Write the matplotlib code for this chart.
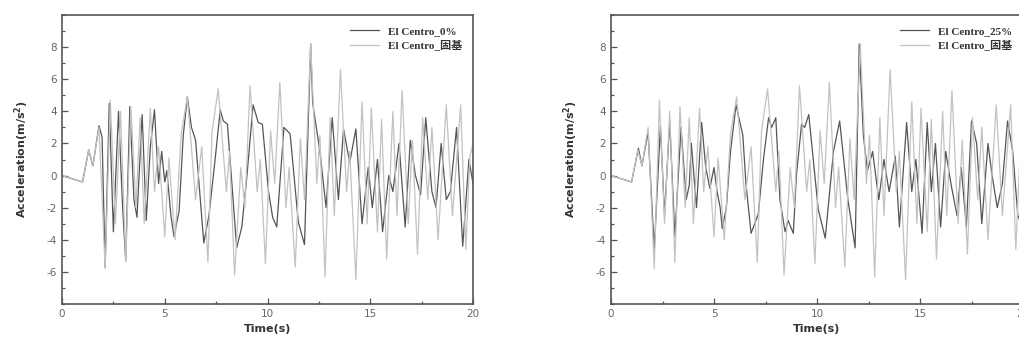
import matplotlib
matplotlib.use("Agg")
import matplotlib.pyplot as plt
from matplotlib.ticker import MultipleLocator

plt.rcParams["axes.unicode_minus"] = False

# fixed-base response (same in both panels), turning points
base_t = [0.0, 0.5, 1.0, 1.3, 1.5, 1.8, 2.1, 2.35, 2.6, 2.85, 3.1, 3.35, 3.6, 3.8,
          4.0, 4.3, 4.5, 4.7, 5.0, 5.2, 5.5, 5.8, 6.1, 6.5, 6.8, 7.1, 7.3, 7.6,
          8.0, 8.15, 8.4, 8.7, 8.9, 9.15, 9.5, 9.65, 9.9, 10.15, 10.35, 10.6,
          10.9, 11.05, 11.35, 11.6, 11.8, 12.1, 12.4, 12.55, 12.8, 13.05, 13.25,
          13.55, 13.85, 14.0, 14.3, 14.6, 14.85, 15.05, 15.35, 15.55, 15.8, 16.1,
          16.3, 16.55, 16.85, 17.05, 17.3, 17.55, 17.8, 18.0, 18.3, 18.7, 19.0,
          19.4, 19.65, 19.85, 20.0]
base_a = [0.0, -0.2, -0.4, 1.6, 0.6, 3.0, -5.8, 4.7, -3.0, 4.0, -5.4, 4.3, -2.0, 3.6,
          -3.0, 4.2, -1.0, 1.8, -3.8, 1.1, -4.0, 2.6, 4.9, -1.5, 1.8, -5.4, 2.7, 5.4,
          -1.0, 1.5, -6.2, 0.5, -2.0, 5.6, -1.0, 1.0, -5.5, 2.8, -0.5, 5.8,
          -2.0, 0.5, -5.7, 2.3, -1.5, 8.2, -0.5, 2.5, -6.3, 3.6, -2.5,
          6.6, -1.0, 1.5, -6.5, 4.6, -3.0, 4.2, -3.5, 3.5, -5.2, 4.0,
          -2.5, 5.3, -3.0, 2.2, -4.9, 3.6, -1.5, 3.0, -4.0, 4.4, -2.5,
          4.4, -4.6, 1.2, 2.0]

# El Centro_0%
c0_t = [0.0, 0.5, 1.0, 1.3, 1.5, 1.8, 1.95, 2.1, 2.3, 2.5, 2.75, 2.95, 3.1, 3.3, 3.5,
        3.65, 3.9, 4.1, 4.3, 4.5, 4.7, 4.85, 5.0, 5.1, 5.3, 5.45, 5.7, 5.9, 6.1, 6.3,
        6.5, 6.9, 7.15, 7.45, 7.7, 7.85, 8.05, 8.5, 8.75, 9.0, 9.3, 9.55, 9.75, 10.05,
        10.25, 10.45, 10.8, 11.1, 11.5, 11.8, 12.1, 12.2, 12.55, 12.85, 13.15, 13.45,
        13.7, 14.0, 14.3, 14.6, 14.9, 15.1, 15.35, 15.6, 15.9, 16.1, 16.4, 16.7,
        16.95, 17.2, 17.45, 17.7, 18.0, 18.2, 18.45, 18.7, 18.9, 19.2, 19.5, 19.8, 20.0]
c0_a = [0.0, -0.2, -0.4, 1.6, 0.6, 3.1, 2.4, -5.7, 4.5, -3.5, 4.0, -2.0, -5.3, 4.3, -1.5,
        -2.6, 3.8, -2.8, 1.8, 4.1, -0.5, 1.5, -0.4, 0.3, -2.5, -3.8, -2.2, 2.5, 4.9, 3.0,
        2.2, -4.2, -2.5, 1.0, 4.1, 3.4, 3.2, -4.5, -3.2, 0.0, 4.4, 3.3, 3.2, -1.0,
        -2.6, -3.2, 3.0, 2.6, -2.9, -4.3, 8.2, 4.5, 1.5, -2.0, 3.6, -1.5,
        2.9, 0.8, 2.9, -3.0, 0.5, -2.0, 1.0, -3.5, 0.0, -1.0, 2.0, -3.2,
        2.2, 0.0, -1.2, 3.6, -1.0, -2.0, 2.0, -1.5, -1.0, 3.0, -4.4, 1.0, -0.5]

# El Centro_25%
c25_t = [0.0, 0.5, 1.0, 1.33, 1.5, 1.8, 2.1, 2.4, 2.6, 2.85, 3.1, 3.4, 3.65, 3.8, 3.9,
         4.15, 4.4, 4.6, 4.8, 5.0, 5.15, 5.3, 5.4, 5.6, 5.8, 6.07, 6.4, 6.55, 6.8, 7.15,
         7.4, 7.65, 7.8, 8.0, 8.2, 8.45, 8.6, 8.85, 9.0, 9.25, 9.4, 9.6, 10.06, 10.4,
         10.8, 11.1, 11.5, 11.85, 12.05, 12.25, 12.45, 12.7, 13.0, 13.25, 13.5, 13.8,
         14.0, 14.35, 14.6, 14.8, 15.1, 15.35, 15.55, 15.75, 16.0, 16.25, 16.5, 16.8,
         17.0, 17.25, 17.5, 17.75, 18.0, 18.3, 18.5, 18.75, 19.0, 19.25, 19.5, 19.75, 20.0]
c25_a = [0.0, -0.2, -0.4, 1.7, 0.6, 2.7, -4.6, 3.1, -2.5, 3.4, -3.8, 3.0, -1.5, -0.6, 2.0,
         -2.0, 3.3, 0.5, -0.8, 0.5, -1.0, -2.0, -3.3, -2.0, 1.5, 4.4, 2.5, -0.5, -3.6, -2.4,
         1.0, 3.6, 3.0, 3.6, -1.5, -3.5, -2.8, -3.6, 0.0, 3.2, 3.0, 3.8, -2.1, -3.9,
         1.5, 3.4, -1.5, -4.5, 8.2, 2.5, 0.3, 1.5, -1.5, 1.0, -1.0, 1.2,
         -3.2, 3.3, -1.0, 1.0, -3.6, 3.3, -1.0, 2.0, -3.2, 1.5, -0.5, -2.5,
         0.5, -3.2, 3.4, 2.0, -3.0, 2.0, 0.0, -2.0, -0.5, 3.4, 1.5, -2.5, -3.2]

labels = ["El Centro_0%", "El Centro_25%"]
base_label = "El Centro_固基"
series = [(c0_t, c0_a), (c25_t, c25_a)]

W, H = 1019, 345
fig = plt.figure(figsize=(W / 100, H / 100), dpi=100)
boxes = [(62, 473), (611, 1023)]
top, bottom = 15, 304

for (x0, x1), (t, a), lab in zip(boxes, series, labels):
    ax = fig.add_axes([x0 / W, 1 - bottom / H, (x1 - x0) / W, (bottom - top) / H])
    ax.plot(t, a, color="#555555", lw=0.9, label=lab, solid_joinstyle="round")
    ax.plot(base_t, base_a, color="#c2c2c2", lw=0.9, label=base_label,
            solid_joinstyle="round")
    ax.set_xlim(0, 20)
    ax.set_ylim(-8, 10)
    ax.set_xticks([0, 5, 10, 15, 20])
    ax.set_yticks([-6, -4, -2, 0, 2, 4, 6, 8])
    ax.xaxis.set_minor_locator(MultipleLocator(2.5))
    ax.yaxis.set_minor_locator(MultipleLocator(1))
    ax.tick_params(which="both", direction="in", top=False, right=False,
                   colors="#555555", labelsize=7.5, width=0.9)
    ax.tick_params(which="both", labelcolor="#666666")
    ax.tick_params(which="major", length=4)
    ax.tick_params(which="minor", length=2.5)
    for s in ax.spines.values():
        s.set_color("#555555")
        s.set_linewidth(1.2)
    ax.set_xlabel("Time(s)", fontsize=8, fontweight="bold", color="#333333", labelpad=4)
    ax.set_ylabel("Acceleration(m/s$^\\mathbf{2}$)", fontsize=8, fontweight="bold",
                  color="#333333", labelpad=11)
    leg = ax.legend(loc="upper right", frameon=False, handlelength=2.6,
                    borderaxespad=0.6, labelspacing=0.35,
                    prop={"family": ["Liberation Serif", "Noto Sans CJK SC"],
                          "weight": "bold", "size": 8})
    for txt in leg.get_texts():
        txt.set_color("#333333")

fig.savefig("out.png", dpi=100)
